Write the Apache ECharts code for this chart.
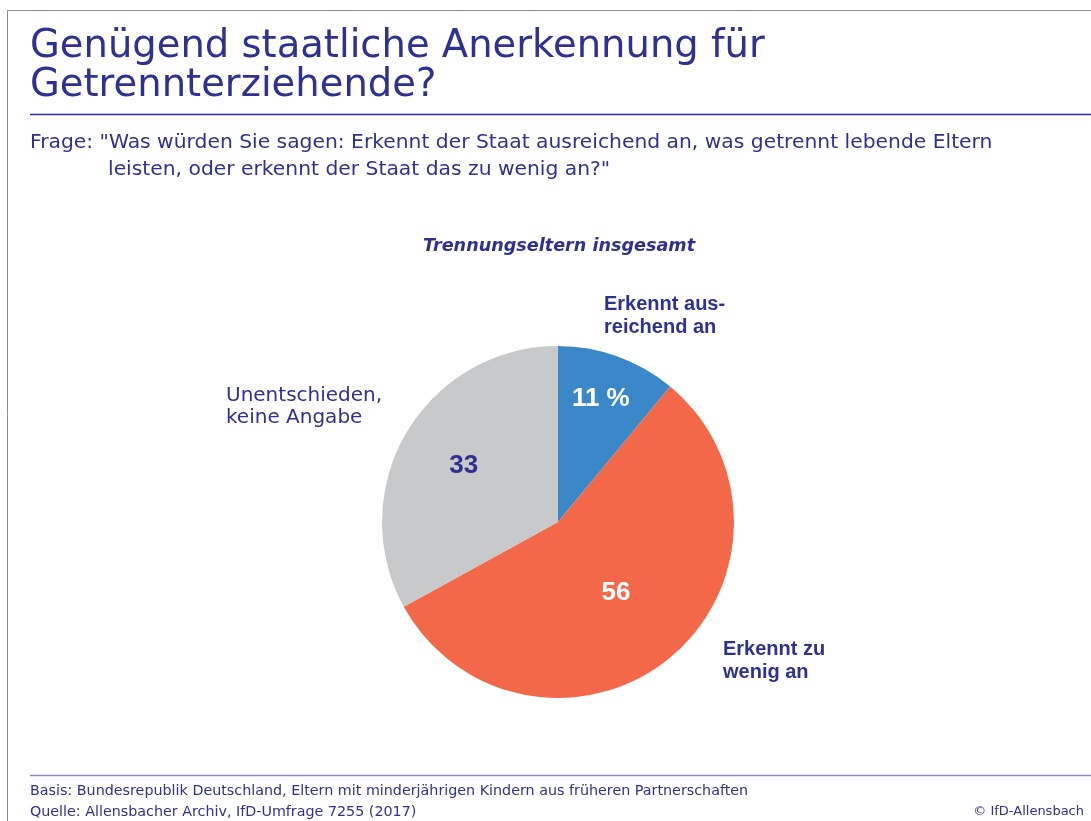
<!DOCTYPE html>
<html>
<head>
<meta charset="utf-8">
<script src="https://cdn.jsdelivr.net/npm/echarts@6/dist/echarts.min.js"></script>
<style>
  html, body { margin: 0; padding: 0; background: #fff; }
  #chart { width: 1091px; height: 821px; }
</style>
</head>
<body>
<div id="chart"></div>
<script>
// Daten
var categories = ['Erkennt ausreichend an', 'Erkennt zu wenig an', 'Unentschieden, keine Angabe'];
var values = [11, 56, 33];
var valueLabels = ['11 %', '56', '33'];
var colors = ['#3b88c8', '#f26848', '#c8c9cb'];

var navy = '#2e3192';
var font = 'DejaVu Sans';
var boldFont = 'Liberation Sans';

var myChart = echarts.init(document.getElementById('chart'));

// Innenbeschriftungen etwas verschoben wie im Original
var labelOffsets = [[12, -38], [0, 1], [-16, -10]];
var labelColors = ['#ffffff', '#ffffff', navy];

var pieData = categories.map(function (name, i) {
  return {
    name: name,
    value: values[i],
    itemStyle: { color: colors[i] },
    label: {
      formatter: valueLabels[i],
      color: labelColors[i],
      offset: labelOffsets[i]
    }
  };
});

myChart.setOption({
  animation: false,
  series: [
    {
      type: 'pie',
      center: [558, 522],
      radius: [0, 176],
      startAngle: 90,
      clockwise: true,
      silent: true,
      label: {
        show: true,
        position: 'inside',
        fontFamily: boldFont,
        fontWeight: 'bold',
        fontSize: 26
      },
      labelLine: { show: false },
      itemStyle: { borderWidth: 0 },
      data: pieData
    }
  ],
  graphic: [
    // Rahmen
    { type: 'line', shape: { x1: 7, y1: 10.5, x2: 1091, y2: 10.5 }, style: { stroke: '#8c8c8c', lineWidth: 1 } },
    { type: 'line', shape: { x1: 7.5, y1: 10, x2: 7.5, y2: 821 }, style: { stroke: '#8c8c8c', lineWidth: 1 } },
    // Titel
    {
      type: 'text', left: 30, top: 27,
      style: {
        text: 'Genügend staatliche Anerkennung für\nGetrennterziehende?',
        fontFamily: font, fontSize: 38.5, lineHeight: 39, fill: navy
      }
    },
    { type: 'line', shape: { x1: 30, y1: 114.5, x2: 1091, y2: 114.5 }, style: { stroke: navy, lineWidth: 1.5 } },
    // Frage
    {
      type: 'text', left: 30, top: 133,
      style: {
        text: 'Frage: "Was würden Sie sagen: Erkennt der Staat ausreichend an, was getrennt lebende Eltern',
        fontFamily: font, fontSize: 20.3, fill: navy
      }
    },
    {
      type: 'text', left: 108, top: 160,
      style: {
        text: 'leisten, oder erkennt der Staat das zu wenig an?"',
        fontFamily: font, fontSize: 20.3, fill: navy
      }
    },
    // Untertitel
    {
      type: 'text', x: 559, y: 246,
      style: {
        text: 'Trennungseltern insgesamt',
        fontFamily: font, fontSize: 17.6, fontWeight: 'bold', fontStyle: 'italic',
        fill: navy, align: 'center', verticalAlign: 'middle'
      }
    },
    // Kategorienamen
    {
      type: 'text', left: 604, top: 293,
      style: {
        text: 'Erkennt aus-\nreichend an',
        fontFamily: boldFont, fontSize: 20, fontWeight: 'bold', lineHeight: 23, fill: navy
      }
    },
    {
      type: 'text', left: 723, top: 638,
      style: {
        text: 'Erkennt zu\nwenig an',
        fontFamily: boldFont, fontSize: 20, fontWeight: 'bold', lineHeight: 23, fill: navy
      }
    },
    {
      type: 'text', left: 226, top: 385,
      style: {
        text: 'Unentschieden,\nkeine Angabe',
        fontFamily: font, fontSize: 20, lineHeight: 22, fill: navy
      }
    },
    // Fußzeile
    { type: 'line', shape: { x1: 30, y1: 775.5, x2: 1091, y2: 775.5 }, style: { stroke: '#8a8ac2', lineWidth: 1.5 } },
    {
      type: 'text', left: 30, top: 784,
      style: {
        text: 'Basis: Bundesrepublik Deutschland, Eltern mit minderjährigen Kindern aus früheren Partnerschaften',
        fontFamily: font, fontSize: 14.3, fill: navy
      }
    },
    {
      type: 'text', left: 30, top: 805,
      style: {
        text: 'Quelle: Allensbacher Archiv, IfD-Umfrage 7255 (2017)',
        fontFamily: font, fontSize: 14.3, fill: navy
      }
    },
    {
      type: 'text', right: 7, top: 805,
      style: {
        text: '© IfD-Allensbach',
        fontFamily: font, fontSize: 13, fill: navy
      }
    }
  ]
});

window.addEventListener('resize', function () {
  myChart.resize();
});
</script>
</body>
</html>
